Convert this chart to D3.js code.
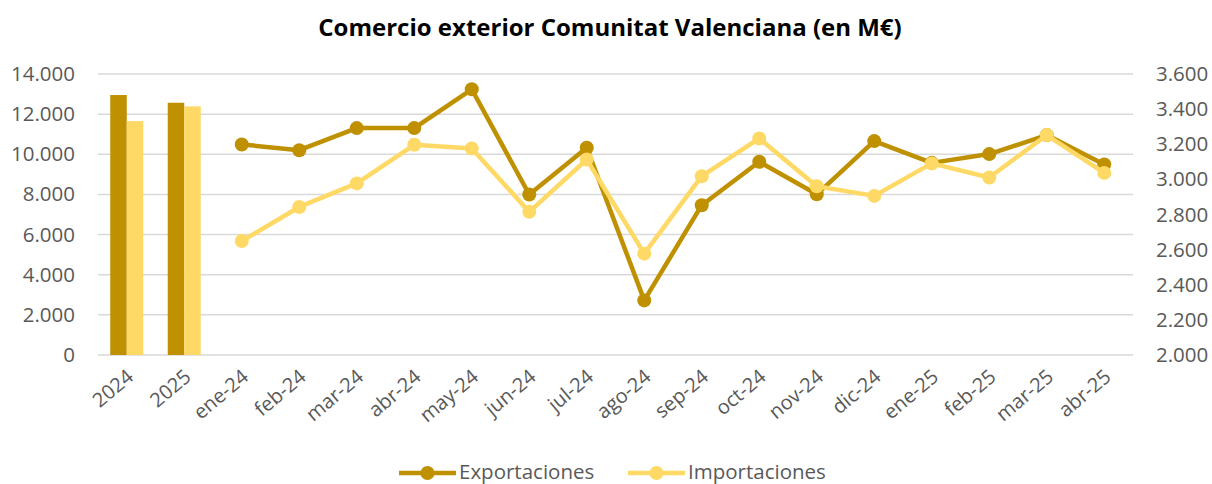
<!DOCTYPE html>
<html>
<head>
<meta charset="utf-8">
<script src="https://cdn.jsdelivr.net/npm/d3@7"></script>
<style>
  body { margin: 0; background: #fff; }
  svg text { font-family: "Open Sans", sans-serif; }
</style>
</head>
<body>
<div id="chart"></div>
<script>
// categories on x axis
var categories = ["2024", "2025", "ene-24", "feb-24", "mar-24", "abr-24", "may-24", "jun-24",
    "jul-24", "ago-24", "sep-24", "oct-24", "nov-24", "dic-24", "ene-25", "feb-25", "mar-25", "abr-25"];

// cumulative ene-abr (left axis, bars)
var barYears = ["2024", "2025"];
var barExport = [12952, 12568];
var barImport = [11654, 12388];

// monthly values (right axis, lines)
var months = categories.slice(2);
var exportaciones = [3199, 3166, 3292, 3292, 3513, 2914, 3180, 2311, 2853, 3100, 2915, 3218, 3094, 3144, 3252, 3085];
var importaciones = [2649, 2843, 2977, 3197, 3176, 2815, 3113, 2577, 3018, 3233, 2961, 2906, 3091, 3011, 3252, 3037];

var leftTicks = [0, 2000, 4000, 6000, 8000, 10000, 12000, 14000];
var rightTicks = [2000, 2200, 2400, 2600, 2800, 3000, 3200, 3400, 3600];

var dark = "#bf9000";
var light = "#ffd966";

var W = 1212, H = 484;
var margin = {t: 74, r: 79, b: 129, l: 98};
var width = W - margin.l - margin.r,
    height = H - margin.t - margin.b;

var svg = d3.select('#chart').append('svg')
    .attr('width', W)
    .attr('height', H);

var fmt = d3.formatLocale({decimal: ",", thousands: ".", grouping: [3], currency: ["", "€"]}).format(",d");

var x = d3.scaleBand().domain(categories).range([0, width]).paddingInner(0).paddingOuter(0);
var yL = d3.scaleLinear().domain([0, 14000]).range([height, 0]);
var yR = d3.scaleLinear().domain([2000, 3600]).range([height, 0]);
var xSub = d3.scaleBand().domain(["exp", "imp"]).range([-16.5, 16.5]);

var g = svg.append('g').attr('transform', 'translate(' + margin.l + ',' + margin.t + ')');

// title
svg.append('text')
    .attr('x', 610).attr('y', 36)
    .attr('text-anchor', 'middle')
    .style('font-size', '24px').style('font-weight', 'bold').style('fill', '#000')
    .text('Comercio exterior Comunitat Valenciana (en M€)');

// gridlines
g.selectAll('.grid').data(leftTicks).enter().append('line')
    .attr('x1', 0).attr('x2', width)
    .attr('y1', function(d){return yL(d)}).attr('y2', function(d){return yL(d)})
    .style('stroke', '#d9d9d9').style('stroke-width', 1.5);

// left axis
var axL = g.append('g').call(d3.axisLeft(yL).tickValues(leftTicks).tickFormat(fmt).tickSize(0).tickPadding(23));
axL.select('.domain').remove();
axL.selectAll('text').style('font-size', '20.5px').style('fill', '#595959');

// right axis
var axR = g.append('g').attr('transform', 'translate(' + width + ',0)')
    .call(d3.axisRight(yR).tickValues(rightTicks).tickFormat(fmt).tickSize(0).tickPadding(23));
axR.select('.domain').remove();
axR.selectAll('text').style('font-size', '20.5px').style('fill', '#595959');

// bottom axis
var axB = g.append('g').attr('transform', 'translate(0,' + height + ')')
    .call(d3.axisBottom(x).tickSize(0).tickPadding(0));
axB.select('.domain').remove();
axB.selectAll('text')
    .style('font-size', '20px').style('fill', '#595959')
    .attr('text-anchor', 'end')
    .attr('dy', null)
    .attr('transform', 'translate(8,24) rotate(-40)');

// bars
barYears.forEach(function(yr, i){
    g.append('rect')
        .attr('x', x(yr) + x.bandwidth()/2 + xSub('exp'))
        .attr('width', xSub.bandwidth())
        .attr('y', yL(barExport[i]))
        .attr('height', height - yL(barExport[i]))
        .style('fill', dark);
    g.append('rect')
        .attr('x', x(yr) + x.bandwidth()/2 + xSub('imp'))
        .attr('width', xSub.bandwidth())
        .attr('y', yL(barImport[i]))
        .attr('height', height - yL(barImport[i]))
        .style('fill', light);
});

// lines
var series = [
    {name: "Exportaciones", values: exportaciones, color: dark},
    {name: "Importaciones", values: importaciones, color: light}
];
// imports drawn after exports
var line = d3.line()
    .x(function(d, i){return x(months[i]) + x.bandwidth()/2})
    .y(function(d){return yR(d)});

series.forEach(function(s){
    g.append('path')
        .datum(s.values)
        .attr('d', line)
        .style('fill', 'none')
        .style('stroke', s.color)
        .style('stroke-width', 4.5)
        .style('stroke-linejoin', 'round');
    g.selectAll('.m' + s.name).data(s.values).enter().append('circle')
        .attr('cx', function(d, i){return x(months[i]) + x.bandwidth()/2})
        .attr('cy', function(d){return yR(d)})
        .attr('r', 7)
        .style('fill', s.color);
});

// legend
var legendX = [399, 628];
series.forEach(function(s, i){
    var lg = svg.append('g').attr('transform', 'translate(' + legendX[i] + ',473)');
    lg.append('line').attr('x1', 0).attr('x2', 57).attr('y1', 0).attr('y2', 0)
        .style('stroke', s.color).style('stroke-width', 4.5);
    lg.append('circle').attr('cx', 28.5).attr('cy', 0).attr('r', 7).style('fill', s.color);
    lg.append('text').attr('x', 60).attr('y', 6)
        .style('font-size', '20.5px').style('fill', '#595959')
        .text(s.name);
});
</script>
</body>
</html>
